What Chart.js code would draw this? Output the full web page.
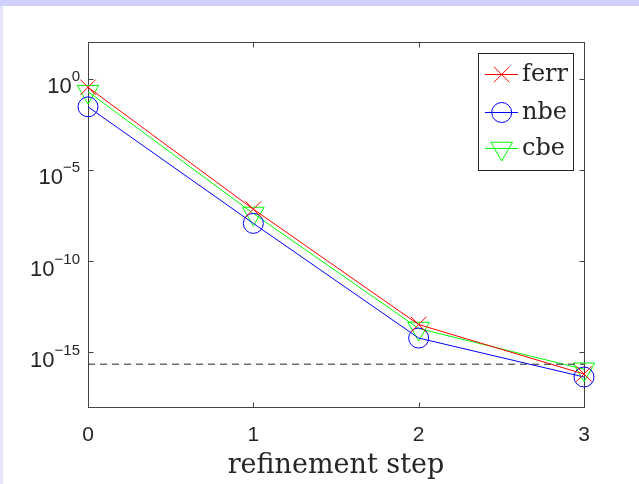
<!DOCTYPE html>
<html>
<head>
<meta charset="utf-8">
<script src="https://cdn.jsdelivr.net/npm/chart.js@4.4.1/dist/chart.umd.min.js"></script>
<style>
  html, body { margin: 0; padding: 0; }
  body { width: 639px; height: 484px; background: #d0d0ff; position: relative; overflow: hidden; }
  #leftStrip { position: absolute; left: 0; top: 6px; width: 3px; height: 478px; background: #e4e4fc; }
  #wrap { position: absolute; left: 3px; top: 6px; width: 636px; height: 478px; background: #fff; }
</style>
</head>
<body>
<div id="leftStrip"></div>
<div id="wrap"><canvas id="errChart" width="636" height="478"></canvas></div>
<script>
const steps = [0, 1, 2, 3];
const ferr = [0.33, 6.9e-8, 3.3e-14, 6.4e-17];
const nbe = [0.028, 1.15e-8, 6.0e-15, 4.4e-17];
const cbe = [0.19, 4.0e-8, 2.0e-14, 1.17e-16];
const machEps = [2.22e-16, 2.22e-16, 2.22e-16, 2.22e-16];
const yTickExps = [0, -5, -10, -15];
const xTicks = [0, 1, 2, 3];

const textColor = '#262626';
const axisColor = '#444444';

function toPoints(values) {
  return steps.map((s, i) => ({ x: s, y: values[i] }));
}

const series = [
  { label: 'ferr', data: ferr, color: '#ff0000', style: 'crossRot', radius: 11, rotation: 0 },
  { label: 'nbe', data: nbe, color: '#0000ff', style: 'circle', radius: 10, rotation: 0 },
  { label: 'cbe', data: cbe, color: '#00ff00', style: 'triangle', radius: 12.5, rotation: 180 },
];

const axesPlugin = {
  id: 'matlabAxes',
  beforeDatasetsDraw(chart) {
    const { ctx, chartArea: a, scales } = chart;
    const L = Math.round(a.left) + 0.5, R = Math.round(a.right) + 0.5;
    const T = Math.round(a.top) + 0.5, B = Math.round(a.bottom) + 0.5;
    ctx.save();
    ctx.strokeStyle = axisColor;
    ctx.lineWidth = 1;
    ctx.strokeRect(L, T, R - L, B - T);
    ctx.beginPath();
    xTicks.forEach((v) => {
      const x = Math.round(scales.x.getPixelForValue(v)) + 0.5;
      ctx.moveTo(x, B); ctx.lineTo(x, B - 5);
      ctx.moveTo(x, T); ctx.lineTo(x, T + 5);
    });
    yTickExps.forEach((e) => {
      const y = Math.round(scales.y.getPixelForValue(Math.pow(10, e))) + 0.5;
      ctx.moveTo(L, y); ctx.lineTo(L + 5, y);
      ctx.moveTo(R, y); ctx.lineTo(R - 5, y);
    });
    ctx.stroke();

    // tick labels
    ctx.fillStyle = textColor;
    ctx.textBaseline = 'alphabetic';
    ctx.textAlign = 'center';
    ctx.font = '21px "Liberation Sans", Arial, sans-serif';
    xTicks.forEach((v) => {
      ctx.fillText(String(v), scales.x.getPixelForValue(v), 435);
    });
    ctx.textAlign = 'right';
    yTickExps.forEach((e) => {
      const y = scales.y.getPixelForValue(Math.pow(10, e));
      const sup = e < 0 ? '\u2212' + Math.abs(e) : String(e);
      ctx.font = '15px "Liberation Sans", Arial, sans-serif';
      const w = ctx.measureText(sup).width;
      ctx.fillText(sup, 77, y + 2.7);
      ctx.font = '22px "Liberation Sans", Arial, sans-serif';
      ctx.fillText('10', 77 - w, y + 14.7);
    });

    // x axis title
    ctx.textAlign = 'center';
    ctx.font = '27px "DejaVu Serif", serif';
    ctx.fillText('refinement step', 333, 467);
    ctx.restore();
  },
  afterDraw(chart) {
    const { ctx } = chart;
    ctx.save();
    ctx.fillStyle = '#ffffff';
    ctx.strokeStyle = '#262626';
    ctx.lineWidth = 1;
    ctx.fillRect(475.5, 47.5, 95, 117);
    ctx.strokeRect(475.5, 47.5, 95, 117);
    const rows = [68, 106, 142];
    series.forEach((s, i) => {
      const y = rows[i] + 0.5;
      ctx.strokeStyle = s.color;
      ctx.fillStyle = 'rgba(0,0,0,0)';
      ctx.lineWidth = 1;
      ctx.beginPath();
      ctx.moveTo(482, y); ctx.lineTo(515, y);
      ctx.stroke();
      Chart.helpers.drawPoint(ctx, {
        pointStyle: s.style, radius: s.radius, rotation: s.rotation, borderWidth: 1,
      }, 498.7, y);
      ctx.fillStyle = textColor;
      ctx.textAlign = 'left';
      ctx.textBaseline = 'middle';
      ctx.font = '24px "DejaVu Serif", serif';
      ctx.fillText(s.label, 519, rows[i] + 1);
    });
    ctx.restore();
  },
};

const datasets = series.map((s) => ({
  label: s.label,
  data: toPoints(s.data),
  borderColor: s.color,
  backgroundColor: 'rgba(0,0,0,0)',
  borderWidth: 1,
  pointStyle: s.style,
  pointRadius: s.radius,
  pointRotation: s.rotation,
  pointBorderColor: s.color,
  pointBackgroundColor: 'rgba(0,0,0,0)',
  pointBorderWidth: 1,
  tension: 0,
  clip: false,
}));

datasets.unshift({
  label: 'eps',
  data: toPoints(machEps),
  borderColor: '#262626',
  borderWidth: 1,
  borderDash: [7, 5],
  pointRadius: 0,
  fill: false,
  clip: false,
});

new Chart(document.getElementById('errChart'), {
  type: 'line',
  data: { datasets },
  plugins: [axesPlugin],
  options: {
    responsive: false,
    animation: false,
    events: [],
    layout: { padding: { left: 85, top: 36, right: 55, bottom: 77 } },
    plugins: { legend: { display: false }, tooltip: { enabled: false } },
    scales: {
      x: { type: 'linear', min: 0, max: 3, display: false },
      y: { type: 'logarithmic', min: 1e-18, max: 1e2, display: false },
    },
  },
});
</script>
</body>
</html>
